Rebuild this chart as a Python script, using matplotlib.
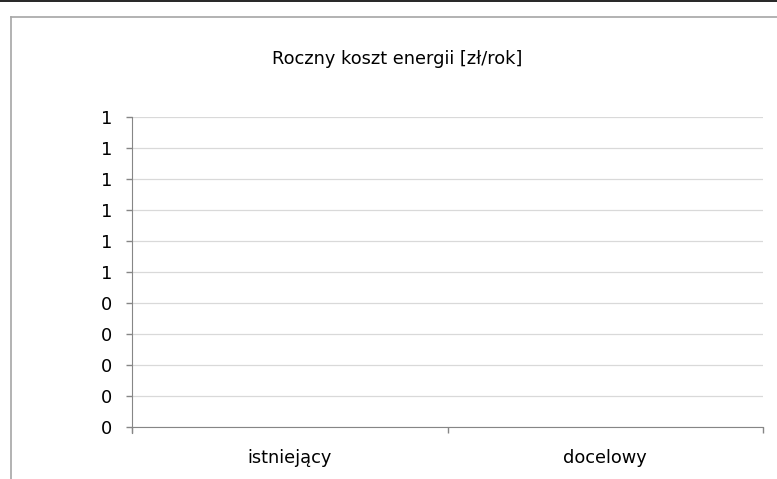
import matplotlib
matplotlib.use('Agg')
import math
import matplotlib.pyplot as plt
from matplotlib.lines import Line2D
from matplotlib.ticker import FuncFormatter, MultipleLocator

plt.rcParams['font.family'] = ['DejaVu Sans']

# ── Data ──
categories = ['istniejący', 'docelowy']
values = [0, 0]
y_max = 1.0
y_step = 0.1

W, H = 777, 479
fig = plt.figure(figsize=(W / 100, H / 100), dpi=100)
fig.patch.set_facecolor('white')

def px(x, y):
    return x / W, 1 - y / H

# black rule at the very top + grey chart frame
fig.add_artist(Line2D([0, 1], [1 - 0.5 / H] * 2, color='black', lw=1.2,
                      transform=fig.transFigure))
x0, y0 = px(11, 17)
fig.add_artist(Line2D([x0, 1], [y0, y0], color='#a6a6a6', lw=1.2,
                      transform=fig.transFigure))
fig.add_artist(Line2D([x0, x0], [0, y0], color='#a6a6a6', lw=1.2,
                      transform=fig.transFigure))

# plot area
left, top = px(132, 117)
right, bottom = px(763, 427)
ax = fig.add_axes([left, bottom, right - left, top - bottom])

ax.bar(range(len(categories)), values, width=0.6, color='#4f81bd')
ax.set_xlim(-0.5, len(categories) - 0.5)
ax.set_ylim(0, y_max)

ax.yaxis.set_major_locator(MultipleLocator(y_step))
ax.yaxis.set_major_formatter(
    FuncFormatter(lambda v, pos: f'{int(math.floor(v + 0.5 + 1e-9))}'))
ax.grid(axis='y', color='#d9d9d9', lw=0.9)
ax.set_axisbelow(True)

ax.set_xticks(range(len(categories)))
ax.set_xticklabels(categories)
ax.set_xticks([-0.5, 0.5, 1.5], minor=True)
ax.tick_params(axis='x', which='major', length=0, pad=15.5, labelsize=12.8)
ax.tick_params(axis='x', which='minor', length=4.3, color='#868686', width=1)
ax.tick_params(axis='y', length=4.3, color='#868686', width=1,
               pad=10, labelsize=12.8)

for s in ['top', 'right']:
    ax.spines[s].set_visible(False)
ax.spines['left'].set_color('#868686')
ax.spines['bottom'].set_color('#868686')
ax.spines['left'].set_bounds(-0.02, y_max)

fig.text(397 / W, 1 - 59 / H, 'Roczny koszt energii [zł/rok]',
         ha='center', va='center', fontsize=12.8)

plt.savefig('out.png', dpi=100, facecolor='white')
